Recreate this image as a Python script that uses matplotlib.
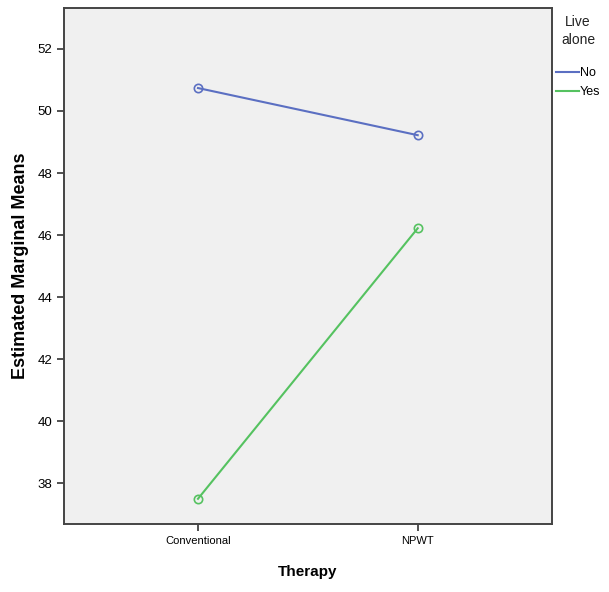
import matplotlib.pyplot as plt

therapy = ["Conventional", "NPWT"]
live_alone = ["No", "Yes"]
means_no = [50.74, 49.22]
means_yes = [37.50, 46.22]
colors = ["#5b6fc2", "#55c260"]
yticks = [38, 40, 42, 44, 46, 48, 50, 52]

plt.rcParams['font.family'] = ['Liberation Sans', 'DejaVu Sans']

fig = plt.figure(figsize=(6.09, 5.92), dpi=100)
ax = fig.add_axes([0.105, 0.115, 0.801, 0.8715])
ax.set_facecolor("#f0f0f0")

x = list(range(len(therapy)))
for vals, col, lab in zip([means_no, means_yes], colors, live_alone):
    ax.plot(x, vals, color=col, lw=1.5, marker="o", ms=6,
            mfc="none", mec=col, mew=1.2, label=lab)

ax.set_xlim(-0.61, 1.61)
ax.set_ylim(36.69, 53.32)
ax.set_xticks(x)
ax.set_xticklabels(therapy, fontsize=8)
ax.set_yticks(yticks)
ax.set_yticklabels([str(t) for t in yticks], fontsize=9.5)
ax.tick_params(direction="out", length=5, width=1.2, color="#333333")
for s in ax.spines.values():
    s.set_color("#444444")
    s.set_linewidth(1.4)

ax.set_xlabel("Therapy", fontsize=11, fontweight="bold", labelpad=14)
ax.set_ylabel("Estimated Marginal Means", fontsize=13, fontweight="bold")
ax.yaxis.set_label_coords(-0.071, 0.5)

# legend title as separate centered text
fig.text(578 / 609, 1 - 31 / 592, "Live\nalone", ha="center", va="center",
         fontsize=10, linespacing=1.35, color="#222222")
leg = ax.legend(loc="upper left", bbox_to_anchor=(1.008, 0.885),
                frameon=False, fontsize=9, handlelength=1.9,
                handletextpad=0.05, borderaxespad=0.0, borderpad=0.0,
                labelspacing=0.55)
for h in leg.get_lines():
    h.set_marker("")

fig.savefig("out.png", dpi=100)
